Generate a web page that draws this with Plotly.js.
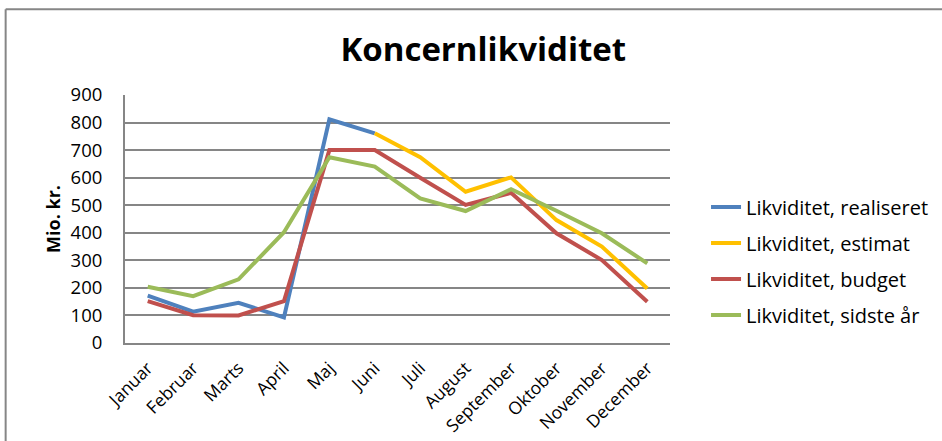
<!DOCTYPE html>
<html>
<head>
<meta charset="utf-8">
<script src="https://cdn.plot.ly/plotly-3.0.1.min.js"></script>
<style>
html,body{margin:0;padding:0;background:#fff;}
#chart{width:942px;height:441px;}
</style>
</head>
<body>
<div id="chart"></div>
<script>
var months = ["Januar","Februar","Marts","April","Maj","Juni","Juli","August","September","Oktober","November","December"];
var realiseret = [172, 114, 146, 93, 812, 761, null, null, null, null, null, null];
var estimat = [null, null, null, null, null, 761, 674, 549, 601, 446, 350, 198];
var budget = [152, 101, 100, 152, 700, 700, 600, 501, 545, 398, 301, 150];
var sidsteAar = [204, 170, 231, 402, 674, 640, 525, 479, 558, 480, 398, 289];
var seriesNames = ["Likviditet, realiseret","Likviditet, estimat","Likviditet, budget","Likviditet, sidste år"];
var seriesColors = ["#4F81BD","#FFC000","#C0504D","#9BBB59"];
var seriesData = [realiseret, estimat, budget, sidsteAar];

var font = "Open Sans, Noto Sans, sans-serif";
var traces = seriesData.map(function(d, i){
  return {
    x: months, y: d, type: "scatter", mode: "lines",
    name: seriesNames[i], legendgroup: "g"+i,
    line: {color: seriesColors[i], width: 4},
    connectgaps: false
  };
});

var layout = {
  width: 942, height: 441,
  margin: {l:125, r:272, t:95, b:98, autoexpand: false},
  paper_bgcolor: "#fff", plot_bgcolor: "#fff",
  title: {text: "<b>Koncernlikviditet</b>", x: 0.513, xanchor: "center", y: 0.887, yanchor: "middle",
          font: {family: font, size: 33, color: "#000"}},
  font: {family: font, color: "#000"},
  xaxis: {
    type: "category", range: [-0.5, 11.5], tickangle: -45, automargin: false,
    showgrid: false, showline: true, linecolor: "#868686", linewidth: 2,
    ticks: "", ticklabelstandoff: 6, tickfont: {size: 17.5, family: font, color: "#000"}, fixedrange: true
  },
  yaxis: {
    range: [0, 900], dtick: 100, showgrid: true, gridcolor: "#868686", gridwidth: 2, automargin: false,
    showline: true, linecolor: "#868686", linewidth: 2, zeroline: false,
    ticks: "", ticklabelstandoff: 17, tickfont: {size: 18.5, family: font, color: "#000"},
    title: {text: "<b>Mio. kr.</b>", font: {size: 18, family: font, color: "#000"}, standoff: 5}
  },
  legend: {
    xref: "container", yref: "container",
    x: 0.7495, xanchor: "left", y: 0.408, yanchor: "middle",
    traceorder: "grouped", tracegroupgap: 7,
    font: {size: 20, family: font, color: "#000"}, bgcolor: "rgba(0,0,0,0)"
  },
  shapes: [
    {type: "line", xref: "paper", yref: "paper", x0: -0.219, x1: 1.6, y0: 1.346, y1: 1.346, line: {color: "#868686", width: 2}},
    {type: "line", xref: "paper", yref: "paper", x0: -0.219, x1: -0.219, y0: 1.346, y1: -0.5, line: {color: "#868686", width: 2}}
  ],
  showlegend: true
};

Plotly.newPlot("chart", traces, layout, {displayModeBar: false, staticPlot: true});
</script>
</body>
</html>
